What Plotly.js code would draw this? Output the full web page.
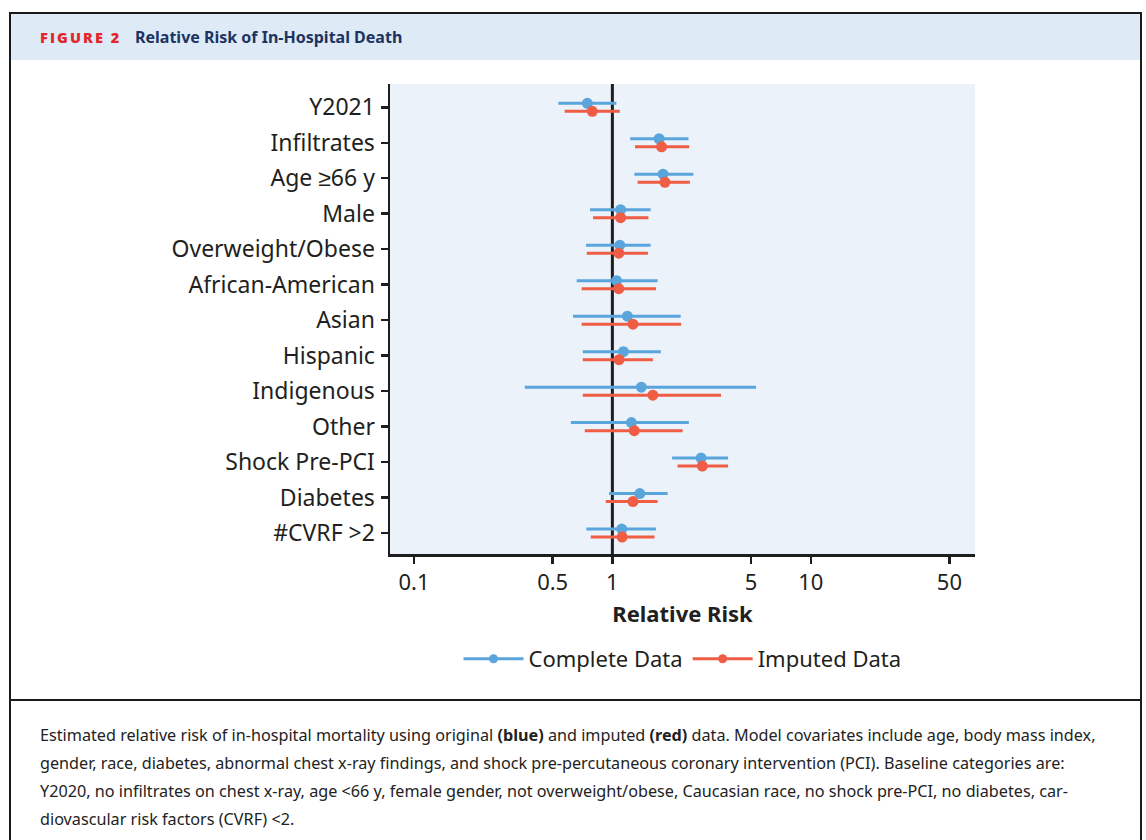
<!DOCTYPE html>
<html>
<head>
<meta charset="utf-8">
<script src="https://cdn.plot.ly/plotly-3.0.1.min.js"></script>
<style>
  html, body { margin:0; padding:0; background:#fff; }
  #wrap { position:relative; width:1146px; height:840px; overflow:hidden; }
  #frame { position:absolute; left:9px; top:12px; width:1133px; height:840px; border:2px solid #1a1a1a; border-bottom:none; box-sizing:border-box; }
  #header { position:absolute; left:11px; top:14px; width:1129px; height:46px; background:#deeaf6; }
  #fig { position:absolute; left:40px; top:28px; font-family:'Open Sans', sans-serif; font-weight:800; font-size:14.5px; letter-spacing:2.1px; color:#e2262b; }
  #htitle { position:absolute; left:135px; top:26px; font-family:'Noto Sans', sans-serif; font-weight:700; font-size:16px; color:#1c3461; }
  #sep { position:absolute; left:9px; top:699px; width:1133px; height:2px; background:#1a1a1a; }
  #caption { position:absolute; left:40px; top:721px; font-family:'Noto Sans', sans-serif; font-size:16.2px; line-height:28px; color:#222; white-space:nowrap; }
  #chart { position:absolute; left:0; top:0; width:1146px; height:840px; }
</style>
</head>
<body>
<div id="wrap">
  <div id="header"></div>
  <div id="frame"></div>
  <div id="fig">FIGURE 2</div>
  <div id="htitle">Relative Risk of In-Hospital Death</div>
  <div id="chart"></div>
  <div id="sep"></div>
  <div id="caption">Estimated relative risk of in-hospital mortality using original <b>(blue)</b> and imputed <b>(red)</b> data. Model covariates include age, body mass index,<br>gender, race, diabetes, abnormal chest x-ray findings, and shock pre-percutaneous coronary intervention (PCI). Baseline categories are:<br>Y2020, no infiltrates on chest x-ray, age &lt;66 y, female gender, not overweight/obese, Caucasian race, no shock pre-PCI, no diabetes, car-<br>diovascular risk factors (CVRF) &lt;2.</div>
</div>
<script>
const categories = ["Y2021","Infiltrates","Age \u226566 y","Male","Overweight/Obese","African-American","Asian","Hispanic","Indigenous","Other","Shock Pre-PCI","Diabetes","#CVRF >2"];

const completeRR   = [0.748, 1.72, 1.80, 1.10, 1.09, 1.05, 1.19, 1.137, 1.40, 1.247, 2.80, 1.375, 1.115];
const completeLow  = [0.534, 1.23, 1.29, 0.772, 0.737, 0.661, 0.633, 0.709, 0.362, 0.618, 2.00, 0.962, 0.739];
const completeHigh = [1.047, 2.42, 2.56, 1.56, 1.56, 1.69, 2.21, 1.756, 5.30, 2.43, 3.83, 1.90, 1.66];

const imputedRR    = [0.792, 1.77, 1.84, 1.10, 1.077, 1.077, 1.27, 1.08, 1.60, 1.29, 2.84, 1.27, 1.12];
const imputedLow   = [0.575, 1.30, 1.34, 0.799, 0.743, 0.70, 0.70, 0.709, 0.709, 0.726, 2.13, 0.926, 0.778];
const imputedHigh  = [1.090, 2.44, 2.46, 1.52, 1.51, 1.66, 2.22, 1.60, 3.53, 2.26, 3.83, 1.69, 1.63];

const xTickVals  = [0.1, 0.5, 1, 5, 10, 50];
const xTickText  = ["0.1", "0.5", "1", "5", "10", "50"];
const referenceValue = 1;

const blue = "#5aa5dc";
const red  = "#ef5d45";
const rowShift = 0.113;
const rows = categories.map((c, i) => i);

function seriesTrace(name, rr, lo, hi, color, shift) {
  return {
    type: "scatter", mode: "markers", name: name, showlegend: false,
    x: rr, y: rows.map(r => r + shift),
    text: categories,
    marker: { color: color, size: 11 },
    error_x: {
      type: "data", symmetric: false,
      array: rr.map((v, i) => hi[i] - v),
      arrayminus: rr.map((v, i) => v - lo[i]),
      width: 0, thickness: 3, color: color
    },
    hovertemplate: "%{text}: %{x}<extra>" + name + "</extra>"
  };
}
function legendTrace(name, color) {
  return {
    type: "scatter", mode: "lines+markers", name: name,
    x: [null], y: [null],
    line: { color: color, width: 3 }, marker: { color: color, size: 9 }
  };
}

const data = [
  seriesTrace("Complete Data", completeRR, completeLow, completeHigh, blue, -rowShift),
  seriesTrace("Imputed Data", imputedRR, imputedLow, imputedHigh, red, rowShift),
  legendTrace("Complete Data", blue),
  legendTrace("Imputed Data", red)
];

const layout = {
  width: 1146, height: 840,
  margin: { l: 390, r: 171, t: 84, b: 286, pad: 0 },
  paper_bgcolor: "rgba(0,0,0,0)",
  plot_bgcolor: "#ebf2fa",
  font: { family: "'Noto Sans', sans-serif", color: "#231f20", size: 21 },
  xaxis: {
    type: "log", range: [-1.121, 1.828],
    tickvals: xTickVals, ticktext: xTickText,
    showgrid: false, zeroline: false,
    showline: true, linecolor: "#1e1e1e", linewidth: 2.5,
    ticks: "outside", ticklen: 7, tickwidth: 2.5, tickcolor: "#1e1e1e",
    tickfont: { size: 22 },
    title: { text: "<b>Relative Risk</b>", font: { size: 22 }, standoff: 12 },
    fixedrange: true
  },
  yaxis: {
    range: [categories.length - 1 + 0.59, -0.656],
    tickvals: rows, ticktext: categories,
    showgrid: false, zeroline: false,
    showline: true, linecolor: "#1e1e1e", linewidth: 2.5,
    ticks: "outside", ticklen: 7, tickwidth: 2.5, tickcolor: "#1e1e1e",
    tickfont: { size: 23 },
    ticklabelstandoff: 1,
    fixedrange: true
  },
  shapes: [{
    type: "line", xref: "x", yref: "paper",
    x0: referenceValue, x1: referenceValue, y0: 0, y1: 1,
    line: { color: "#1e1e1e", width: 3 }, layer: "below"
  }],
  showlegend: true,
  legend: {
    orientation: "h", x: 0.5, xanchor: "center", y: -0.2234, yanchor: "middle",
    font: { size: 22 }, itemwidth: 60, bgcolor: "rgba(0,0,0,0)"
  }
};

Plotly.newPlot("chart", data, layout, { displayModeBar: false, staticPlot: true });
</script>
</body>
</html>
